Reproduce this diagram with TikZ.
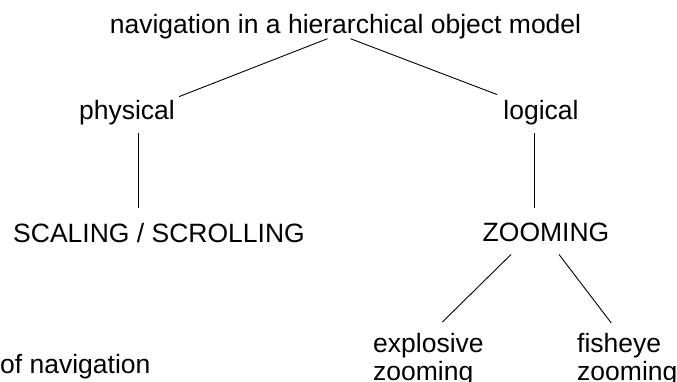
\documentclass[tikz,border=0pt]{standalone}
\usepackage{fontspec}
\setmainfont{Liberation Sans}
\usetikzlibrary{calc}

\begin{document}
\begin{tikzpicture}[x=1pt, y=-1pt,
        term/.style={
          inner sep=0pt, font=\fontsize{26.5}{28}\selectfont
        },
        branch/.style={color=black, line width=.9pt}
      ]
      \useasboundingbox (0,0) rectangle (677,381);
      \node [term, anchor=base] (title) at (345.5,33) {navigation in a hierarchical object model};
      \node [term, anchor=base] (physical) at (127,119) {physical};
      \node [term, anchor=base] (logical) at (541,119) {logical};
      \node [term, anchor=base] (scaling) at (159,242) {SCALING / SCROLLING};
      \node [term, anchor=base] (zooming) at (546,241) {ZOOMING};
      \node [term, anchor=north west, align=left] (explosive) at (373,333) {explosive\\zooming};
      \node [term, anchor=north west, align=left] (fisheye) at (577,333) {fisheye\\zooming};
      \node [term, anchor=base west] (nav) at (0,373) {of navigation};
      % branches of the tree
      \draw [branch] ($(title.south)+(-18,0)$) -- ($(physical.north east)+(4,-3)$);
      \draw [branch] ($(title.south)+(5,0)$) -- ($(logical.north west)+(-6,-5)$);
      \draw [branch] ($(physical.south)+(11,8.5)$) -- ($(scaling.north)+(-21,-15)$);
      \draw [branch] ($(logical.south)+(-7,8.5)$) -- ($(zooming.north)+(-12,-14)$);
      \draw [branch] ($(zooming.south)+(-35,13)$) -- ($(explosive.north)+(14,-11)$);
      \draw [branch] ($(zooming.south)+(13,13)$) -- ($(fisheye.north)+(-16,-10)$);
    \end{tikzpicture}
\end{document}
